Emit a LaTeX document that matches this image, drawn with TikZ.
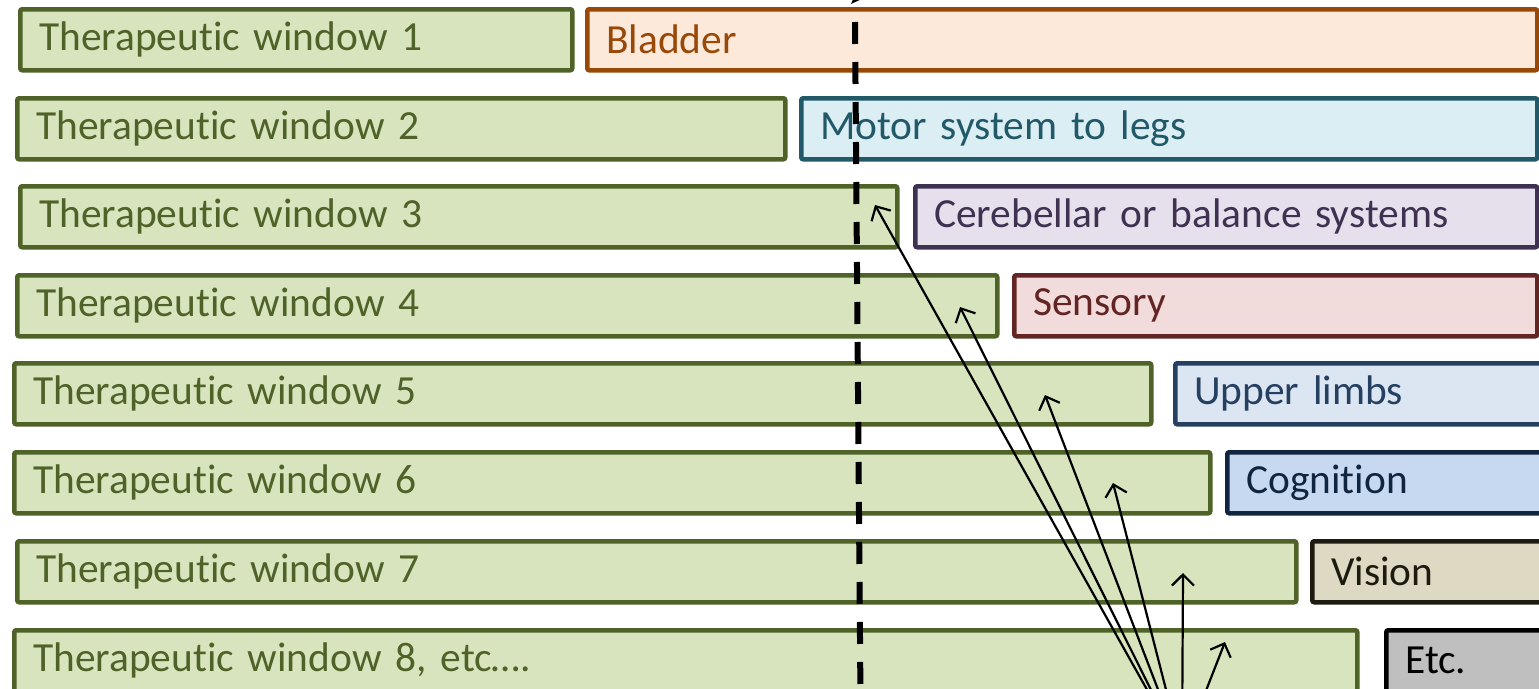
\documentclass[tikz,border=0pt]{standalone}
\usepackage{fontspec}
\setmainfont{Carlito}[Ligatures=NoCommon]
\usetikzlibrary{arrows.meta}
\newcommand{\thwin}{Therapeut\kern0pt ic window}
\definecolor{wingreen}{HTML}{4F6228}
\definecolor{winfill}{HTML}{D7E4BD}
\definecolor{bladline}{HTML}{984807}
\definecolor{bladfill}{HTML}{FDE9D9}
\definecolor{motline}{HTML}{215968}
\definecolor{motfill}{HTML}{DBEEF4}
\definecolor{cerline}{HTML}{3F3151}
\definecolor{cerfill}{HTML}{E6E0EC}
\definecolor{senline}{HTML}{632523}
\definecolor{senfill}{HTML}{F2DCDB}
\definecolor{uplline}{HTML}{254061}
\definecolor{uplfill}{HTML}{DCE6F2}
\definecolor{cogline}{HTML}{10253F}
\definecolor{cogfill}{HTML}{C6D9F1}
\definecolor{visline}{HTML}{1D1B10}
\definecolor{visfill}{HTML}{DDD9C3}
\definecolor{etcfill}{HTML}{BFBFBF}
\tikzset{
  box/.style={draw, line width=4.5pt, rounded corners=2pt, anchor=north west,
    minimum height=61pt, inner xsep=19pt, inner ysep=0pt, align=left,
    font=\fontsize{41.4}{48}\selectfont},
  win/.style={box, draw=wingreen, fill=winfill, text=wingreen},
  hit/.style={line width=2.2pt, -{Straight Barb[length=11pt,width=22pt]}},
}
\begin{document}
\begin{tikzpicture}[x=1pt,y=-1pt]
\useasboundingbox (0,0) rectangle (1539,688);
\clip (0,0) rectangle (1539,688);
% therapeutic windows
\node[win, text width=514pt] (w1) at (18,7) {\thwin{} 1};
\node[win, text width=730pt] (w2) at (15,96) {\thwin{} 2};
\node[win, text width=839pt] (w3) at (18,184) {\thwin{} 3};
\node[win, text width=942pt] (w4) at (15,273) {\thwin{} 4};
\node[win, text width=1099pt] (w5) at (12,361) {\thwin{} 5};
\node[win, text width=1158pt] (w6) at (12,450) {\thwin{} 6};
\node[win, text width=1241pt] (w7) at (15,539) {\thwin{} 7};
\node[win, text width=1305pt] (w8) at (12,628) {\thwin{} 8, etc\dots.};
% systems
\node[box, draw=bladline, fill=bladfill, text=bladline, text width=912pt] (bladder) at (585,7) {Bladder};
\node[box, draw=motline, fill=motfill, text=motline, text width=698pt] (motor) at (799,96) {Motor system to legs};
\node[box, draw=cerline, fill=cerfill, text=cerline, text width=584pt] (cereb) at (913,184) {Cerebellar or balance systems};
\node[box, draw=senline, fill=senfill, text=senline, text width=485pt] (sensory) at (1012,273) {Sensory};
\node[box, draw=uplline, fill=uplfill, text=uplline, text width=359pt] (upper) at (1173,361) {Upper limbs};
\node[box, draw=cogline, fill=cogfill, text=cogline, text width=307pt] (cogn) at (1225,450) {Cognition};
\node[box, draw=visline, fill=visfill, text=visline, text width=222pt] (vision) at (1310,539) {Vision};
\node[box, draw=black, fill=etcfill, text=black, text width=148pt] (etc) at (1384,628) {Etc.};
% threshold line
\coordinate (top) at (855,22);
\coordinate (bot) at (860.5,700);
\draw[line width=6pt, dash pattern=on 22pt off 18pt] (top) -- (bot);
\fill (851,4) -- (866,-3) -- (854,-3) -- cycle;
% arrows
\coordinate (src) at (1182,752);
\coordinate (t3) at (875,205);
\coordinate (t4) at (960,307);
\coordinate (t5) at (1045,395);
\coordinate (t6) at (1113,483);
\coordinate (t7) at (1183,573);
\coordinate (t8) at (1225,642);
\foreach \t in {t3,t4,t5,t6,t7,t8}
  \draw[hit] (src) -- (\t);
\end{tikzpicture}
\end{document}
